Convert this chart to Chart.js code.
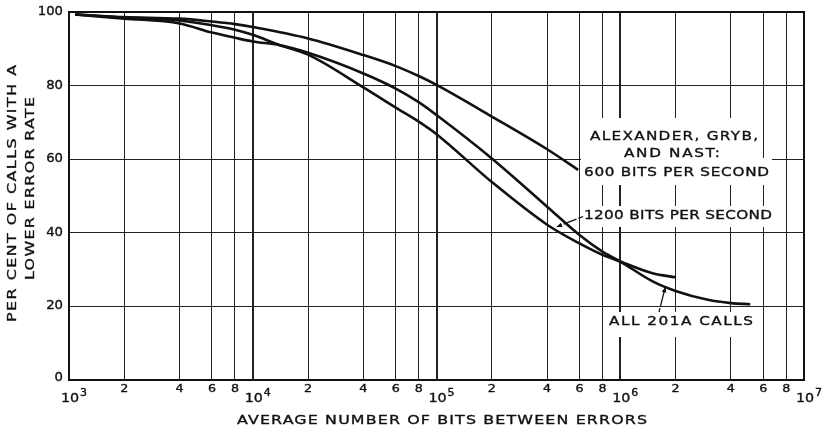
<!DOCTYPE html>
<html>
<head>
<meta charset="utf-8">
<title>Bits between errors</title>
<script src="https://cdn.jsdelivr.net/npm/chart.js"></script>
<style>
body { margin: 0; background: #fff; }
.canvas_div { width: 824px; height: 429px; }
</style>
</head>
<body>
<div class="canvas_div">
    <canvas id="myChart"></canvas>
</div>
<script>
// x ticks on the log axis: decades plus 2, 4, 6, 8 in between
const tickVals = [1e3, 2e3, 4e3, 6e3, 8e3,
                  1e4, 2e4, 4e4, 6e4, 8e4,
                  1e5, 2e5, 4e5, 6e5, 8e5,
                  1e6, 2e6, 4e6, 6e6, 8e6, 1e7];
const yTicks = [0, 20, 40, 60, 80, 100];

// 600 bits per second (Alexander, Gryb and Nast)
const bits600 = [1080, 2e3, 4e3, 6e3, 8e3, 1e4, 2e4, 4e4, 6e4, 8e4, 1e5, 2e5, 4e5, 5.9e5];
const pct600  = [99.3, 98.6, 98.2, 97.4, 96.7, 95.9, 92.8, 88.3, 85.3, 82.6, 80.2, 71.6, 62.7, 57.1];

// 1200 bits per second
const bits1200 = [1080, 2e3, 4e3, 6e3, 8e3, 1e4, 1.4e4, 2e4, 4e4, 6e4, 8e4, 1e5, 2e5, 4e5, 6e5, 8e5, 1e6, 1.5e6, 2e6];
const pct1200  = [99.3, 98.5, 97.7, 96.4, 95.2, 93.8, 91.0, 88.4, 79.5, 74.0, 70.2, 66.8, 53.8, 42.2, 37.1, 34.0, 32.2, 29.0, 27.9];

// all 201A calls
const bits201A = [1080, 2e3, 4e3, 6e3, 8e3, 1e4, 1.4e4, 2e4, 4e4, 6e4, 8e4, 1e5, 2e5, 4e5, 6e5, 8e5, 1e6, 1.5e6, 2e6, 3e6, 4e6, 5.1e6];
const pct201A  = [99.3, 98.2, 96.9, 94.4, 93.0, 92.0, 91.0, 88.9, 83.3, 79.2, 75.5, 72.0, 60.2, 47.1, 39.4, 34.9, 32.2, 26.8, 24.2, 21.8, 20.9, 20.6];

const FONT = '"DejaVu Sans", "Liberation Sans", sans-serif';
const INK = '#111';

function pts(xs, ys) {
    return xs.map(function(x, i) { return { x: x, y: ys[i] }; });
}

function isDecade(v) {
    const l = Math.log10(v);
    return Math.abs(l - Math.round(l)) < 1e-9;
}

// lettering: glyphs widened by k, filled and lightly stroked
function letter(ctx, str, x, y, size, k, align, ls) {
    ctx.save();
    ctx.font = size + 'px ' + FONT;
    ctx.letterSpacing = (ls || 0) + 'px';
    const w = ctx.measureText(str).width * k;
    let x0 = x;
    if (align === 'center') x0 = x - w / 2;
    if (align === 'right') x0 = x - w;
    ctx.translate(x0, y);
    ctx.scale(k, 1);
    ctx.textAlign = 'left';
    ctx.textBaseline = 'middle';
    ctx.fillStyle = INK;
    ctx.strokeStyle = INK;
    ctx.lineWidth = 0.35;
    ctx.fillText(str, 0, 0);
    ctx.strokeText(str, 0, 0);
    ctx.restore();
}

// a line of lettering stretched to a given width
function spaced(ctx, str, cx, cy, width, size) {
    ctx.font = size + 'px ' + FONT;
    ctx.letterSpacing = '0px';
    const w = ctx.measureText(str).width;
    const n = [...str].length;
    let k = width / w;
    if (k > 1.22) k = 1.22;
    const ls = (width / k - w) / (n - 1);
    ctx.save();
    ctx.translate(cx - width / 2, cy);
    letter(ctx, str, 0, 0, size, k, 'left', ls);
    ctx.restore();
}

function arrow(ctx, x0, y0, x1, y1, dash) {
    ctx.save();
    ctx.strokeStyle = INK;
    ctx.fillStyle = INK;
    ctx.lineWidth = 1.3;
    ctx.setLineDash(dash);
    ctx.beginPath();
    ctx.moveTo(x0, y0);
    ctx.lineTo(x1, y1);
    ctx.stroke();
    ctx.setLineDash([]);
    const a = Math.atan2(y1 - y0, x1 - x0);
    const L = 6, s = 0.4;
    ctx.beginPath();
    ctx.moveTo(x1, y1);
    ctx.lineTo(x1 - L * Math.cos(a - s), y1 - L * Math.sin(a - s));
    ctx.lineTo(x1 - L * Math.cos(a + s), y1 - L * Math.sin(a + s));
    ctx.closePath();
    ctx.fill();
    ctx.restore();
}

const paper = {
    id: 'paper',
    afterDraw(chart) {
        const ctx = chart.ctx;
        const xs = chart.scales.x, ys = chart.scales.y;
        const a = chart.chartArea;
        ctx.save();

        // frame
        ctx.strokeStyle = INK;
        ctx.lineWidth = 2;
        ctx.strokeRect(a.left, a.top, a.right - a.left, a.bottom - a.top);

        // y tick labels
        yTicks.forEach(function(v) {
            letter(ctx, String(v), a.left - 6, ys.getPixelForValue(v) - (v === 0 ? 2 : 0), 11.5, 1.15, 'right');
        });

        // x tick labels: 10^n at decades, single digits between
        tickVals.forEach(function(v) {
            const px = xs.getPixelForValue(v);
            if (isDecade(v)) {
                ctx.font = '13px ' + FONT;
                const hw = ctx.measureText('10').width * 1.1 / 2;
                letter(ctx, '10', px + 1, a.bottom + 19, 13, 1.1, 'center');
                letter(ctx, String(Math.round(Math.log10(v))), px + 2 + hw, a.bottom + 13, 10, 1.1, 'left');
            } else {
                const d = Math.round(v / Math.pow(10, Math.floor(Math.log10(v))));
                letter(ctx, String(d), px, a.bottom + 9, 11, 1.15, 'center');
            }
        });

        // axis titles
        spaced(ctx, 'AVERAGE NUMBER OF BITS BETWEEN ERRORS', 442, 421, 410, 13);
        ctx.save();
        ctx.translate(13, 193.5);
        ctx.rotate(-Math.PI / 2);
        spaced(ctx, 'PER CENT OF CALLS WITH A', 0, 0, 257, 13);
        ctx.restore();
        ctx.save();
        ctx.translate(31, 188.5);
        ctx.rotate(-Math.PI / 2);
        spaced(ctx, 'LOWER ERROR RATE', 0, 0, 183, 13);
        ctx.restore();

        // curve labels on white patches
        ctx.fillStyle = '#fff';
        ctx.fillRect(584, 118, 179, 42);
        ctx.fillRect(581, 158, 191, 27);
        ctx.fillRect(582, 206, 193, 21);
        ctx.fillRect(605, 312, 152, 25);
        spaced(ctx, 'ALEXANDER, GRYB,', 674, 137, 168, 12.5);
        spaced(ctx, 'AND NAST:', 672, 154, 96, 12.5);
        spaced(ctx, '600 BITS PER SECOND', 676.5, 173, 185, 12.5);
        spaced(ctx, '1200 BITS PER SECOND', 678, 216, 188, 12.5);
        spaced(ctx, 'ALL 201A CALLS', 681, 322, 144, 12.5);

        // leaders pointing at the 1200 and 201A curves
        arrow(ctx, 583, 216.5, xs.getPixelForValue(4.5e5), ys.getPixelForValue(41.6), [5, 2, 14, 2]);
        arrow(ctx, 659, 312, xs.getPixelForValue(1.76e6), ys.getPixelForValue(25.3), [4, 2, 20, 0]);

        ctx.restore();
    }
};

const lineStyle = {
    borderColor: INK,
    borderWidth: 2.6,
    pointRadius: 0,
    fill: false,
    cubicInterpolationMode: 'monotone'
};

const config = {
    type: 'line',
    data: {
        datasets: [
            Object.assign({ label: '600 BITS PER SECOND', data: pts(bits600, pct600) }, lineStyle),
            Object.assign({ label: '1200 BITS PER SECOND', data: pts(bits1200, pct1200) }, lineStyle),
            Object.assign({ label: 'ALL 201A CALLS', data: pts(bits201A, pct201A) }, lineStyle)
        ]
    },
    options: {
        responsive: true,
        maintainAspectRatio: false,
        animation: false,
        layout: { padding: { top: 12, right: 20, left: 0, bottom: 0 } },
        plugins: {
            legend: { display: false },
            tooltip: { enabled: false }
        },
        scales: {
            x: {
                type: 'logarithmic',
                min: 1e3,
                max: 1e7,
                afterBuildTicks: function(scale) {
                    scale.ticks = tickVals.map(function(v) { return { value: v }; });
                },
                afterFit: function(scale) { scale.height = 49; },
                ticks: { display: false },
                grid: {
                    color: '#222',
                    drawTicks: false,
                    lineWidth: function(c) { return c.tick && isDecade(c.tick.value) ? 2 : 1; }
                },
                border: { display: true, width: 2, color: INK }
            },
            y: {
                min: 0,
                max: 100,
                afterBuildTicks: function(scale) {
                    scale.ticks = yTicks.map(function(v) { return { value: v }; });
                },
                afterFit: function(scale) { scale.width = 69; },
                ticks: { display: false },
                grid: { color: '#222', lineWidth: 1, drawTicks: false },
                border: { display: true, width: 2, color: INK }
            }
        }
    },
    plugins: [paper]
};

var myChart = new Chart(document.getElementById('myChart'), config);
</script>
</body>
</html>
